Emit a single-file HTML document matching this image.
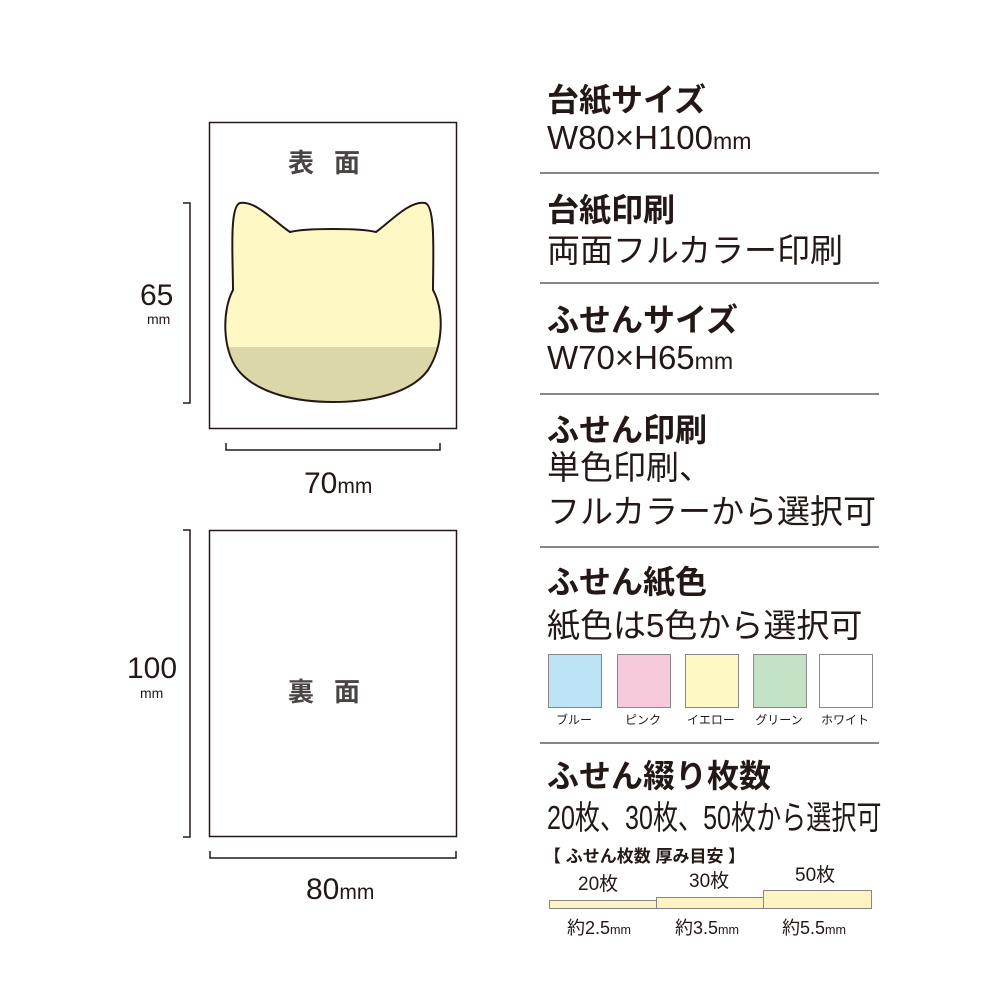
<!DOCTYPE html>
<html><head><meta charset="utf-8"><style>
body{margin:0;background:#fff;width:1000px;height:1000px;position:relative;overflow:hidden;font-family:"Liberation Sans","Noto Sans CJK JP",sans-serif;color:#231815}
.a{position:absolute;white-space:nowrap;line-height:1}
.h{font-weight:bold;font-size:32px}
.b{font-size:33px}
.hr{position:absolute;left:540px;width:339px;height:2px;background:#8a8685}
.sw{position:absolute;top:654px;width:52px;height:52px;border:1px solid #8a8685}
.sl{position:absolute;top:711px;font-size:12px;width:66px;text-align:center}
.mm{font-size:0.7em}
</style></head><body>
<svg class="a" style="left:0;top:0" width="540" height="1000">
<rect x="209.5" y="122.5" width="247" height="306" fill="#fff" stroke="#231815" stroke-width="1.5"/>
<defs><clipPath id="c"><path id="cat" d="M240,203 C229,206 233,260 233,290 C222,310 222,350 238,370 C258,395 300,402 333,402 C366,402 410,395 428,370 C444,345 444,310 433,290 C433,260 436,205 425,203 C410,200 390,222 376,232 C360,228 306,228 290,232 C275,222 255,200 240,203 Z"/></clipPath></defs>
<g clip-path="url(#c)"><rect x="200" y="190" width="260" height="157" fill="#fdf8c4"/><rect x="200" y="347" width="260" height="70" fill="#dcd7a8"/></g>
<use href="#cat" fill="none" stroke="#231815" stroke-width="2"/>
<path d="M183,203 H190 V403 H183" fill="none" stroke="#231815" stroke-width="1.5"/>
<path d="M226,443 V450 H440 V443" fill="none" stroke="#231815" stroke-width="1.5"/>
<rect x="209.5" y="530.5" width="247" height="306" fill="#fff" stroke="#231815" stroke-width="1.5"/>
<path d="M183,530 H190 V837 H183" fill="none" stroke="#231815" stroke-width="1.5"/>
<path d="M210,851 V858 H456 V851" fill="none" stroke="#231815" stroke-width="1.5"/>
</svg>
<div class="a" style="left:288px;top:150px;font-size:26px;font-weight:bold;color:#4a4544;letter-spacing:20px">表面</div>
<div class="a" style="left:288px;top:679px;font-size:26px;font-weight:bold;color:#4a4544;letter-spacing:20px">裏面</div>
<div class="a" style="left:140px;top:281px;font-size:30px">65</div>
<div class="a" style="left:147px;top:312px;font-size:14px">mm</div>
<div class="a" style="left:127px;top:654px;font-size:30px">100</div>
<div class="a" style="left:140px;top:686px;font-size:14px">mm</div>
<div class="a" style="left:304px;top:469px;font-size:30px">70<span class="mm">mm</span></div>
<div class="a" style="left:306px;top:875px;font-size:30px">80<span class="mm">mm</span></div>

<div class="a h" style="left:547px;top:84px">台紙サイズ</div>
<div class="a b" style="left:547px;top:121px">W80×H100<span class="mm">mm</span></div>
<div class="hr" style="top:172px"></div>
<div class="a h" style="left:547px;top:194px">台紙印刷</div>
<div class="a b" style="left:547px;top:234px">両面フルカラー印刷</div>
<div class="hr" style="top:282px"></div>
<div class="a h" style="left:547px;top:304px">ふせんサイズ</div>
<div class="a b" style="left:547px;top:341px">W70×H65<span class="mm">mm</span></div>
<div class="hr" style="top:393px"></div>
<div class="a h" style="left:547px;top:414px">ふせん印刷</div>
<div class="a b" style="left:547px;top:451px">単色印刷、</div>
<div class="a b" style="left:547px;top:495px">フルカラーから選択可</div>
<div class="hr" style="top:546px"></div>
<div class="a h" style="left:547px;top:566px">ふせん紙色</div>
<div class="a b" style="left:547px;top:609px">紙色は5色から選択可</div>
<div class="sw" style="left:548px;background:#bde3f6"></div>
<div class="sw" style="left:617px;background:#f7c9dd"></div>
<div class="sw" style="left:685px;background:#fdf8c4"></div>
<div class="sw" style="left:753px;background:#c3e2c5"></div>
<div class="sw" style="left:819px;background:#fff"></div>
<div class="sl" style="left:541px">ブルー</div>
<div class="sl" style="left:610px">ピンク</div>
<div class="sl" style="left:678px">イエロー</div>
<div class="sl" style="left:746px">グリーン</div>
<div class="sl" style="left:812px">ホワイト</div>
<div class="hr" style="top:742px"></div>
<div class="a h" style="left:547px;top:760px">ふせん綴り枚数</div>
<div class="a b" style="left:547px;top:801px;transform:scaleX(0.76);transform-origin:0 0">20枚、30枚、50枚から選択可</div>
<div class="a" style="left:544px;top:848px;font-size:17px;font-weight:bold">【 ふせん枚数 厚み目安 】</div>
<div class="a" style="left:578px;top:875px;font-size:19px">20枚</div>
<div class="a" style="left:689px;top:872px;font-size:19px">30枚</div>
<div class="a" style="left:795px;top:866px;font-size:19px">50枚</div>
<div class="a" style="left:549px;top:900px;width:106px;height:7px;background:#fdf3c3;border:1px solid #8a8685"></div>
<div class="a" style="left:656px;top:897px;width:106px;height:10px;background:#fdf3c3;border:1px solid #8a8685"></div>
<div class="a" style="left:763px;top:890px;width:107px;height:17px;background:#fdf3c3;border:1px solid #8a8685"></div>
<div class="a" style="left:567px;top:919px;font-size:18px">約2.5<span class="mm">mm</span></div>
<div class="a" style="left:675px;top:919px;font-size:18px">約3.5<span class="mm">mm</span></div>
<div class="a" style="left:782px;top:919px;font-size:18px">約5.5<span class="mm">mm</span></div>
</body></html>
